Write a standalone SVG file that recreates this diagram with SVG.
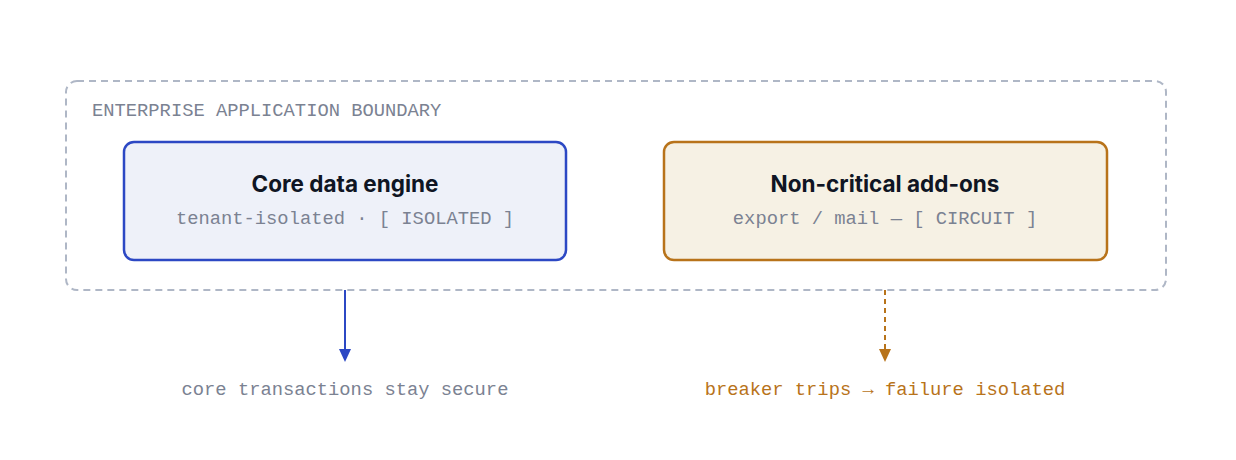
<svg xmlns="http://www.w3.org/2000/svg" width="1236" height="460" viewBox="0 0 1236 460">
<style>
.mono{font-family:"Liberation Mono","DejaVu Sans Mono",monospace;font-size:18.8px}
.title{font-family:Inter,"Liberation Sans",sans-serif;font-weight:700;font-size:22.5px;fill:#0f1523}
.sub{fill:#7b8292}
</style>
<defs>
<marker id="ah-blue" markerWidth="13" markerHeight="12" refX="3" refY="6" orient="auto" markerUnits="userSpaceOnUse" viewBox="0 0 13 12">
<path d="M0,0 L13,6 L0,12 Z" fill="#2c48c4"/>
</marker>
<marker id="ah-orange" markerWidth="13" markerHeight="12" refX="3" refY="6" orient="auto" markerUnits="userSpaceOnUse" viewBox="0 0 13 12">
<path d="M0,0 L13,6 L0,12 Z" fill="#b8731a"/>
</marker>
</defs>
<rect width="1236" height="460" fill="#ffffff"/>
<g id="boundary">
<rect x="66" y="81" width="1100" height="209" rx="11" fill="none" stroke="#afb7c6" stroke-width="2" stroke-dasharray="7 5"/>
<text x="92" y="116" class="mono" fill="#7b8292">ENTERPRISE APPLICATION BOUNDARY</text>
</g>
<g id="core">
<rect x="124" y="142" width="442" height="118" rx="10" fill="#eef1f9" stroke="#2c48c4" stroke-width="2.5"/>
<text x="345" y="192" class="title" text-anchor="middle">Core data engine</text>
<text x="345" y="224" class="mono sub" text-anchor="middle">tenant-isolated · [ ISOLATED ]</text>
</g>
<g id="addons">
<rect x="664" y="142" width="443" height="118" rx="10" fill="#f6f1e4" stroke="#b8731a" stroke-width="2.5"/>
<text x="885" y="192" class="title" text-anchor="middle">Non-critical add-ons</text>
<text x="885" y="224" class="mono sub" text-anchor="middle">export / mail — [ CIRCUIT ]</text>
</g>
<g id="connectors">
<line x1="345" y1="290" x2="345" y2="352" stroke="#2c48c4" stroke-width="2" marker-end="url(#ah-blue)"/>
<line x1="885" y1="290" x2="885" y2="352" stroke="#b8731a" stroke-width="2" stroke-dasharray="5 4" marker-end="url(#ah-orange)"/>
</g>
<g id="outcome-core">
<text x="345" y="395" class="mono" fill="#7b8292" text-anchor="middle">core transactions stay secure</text>
</g>
<g id="outcome-addons">
<text x="885" y="395" class="mono" fill="#b8731a" text-anchor="middle">breaker trips → failure isolated</text>
</g>
</svg>
